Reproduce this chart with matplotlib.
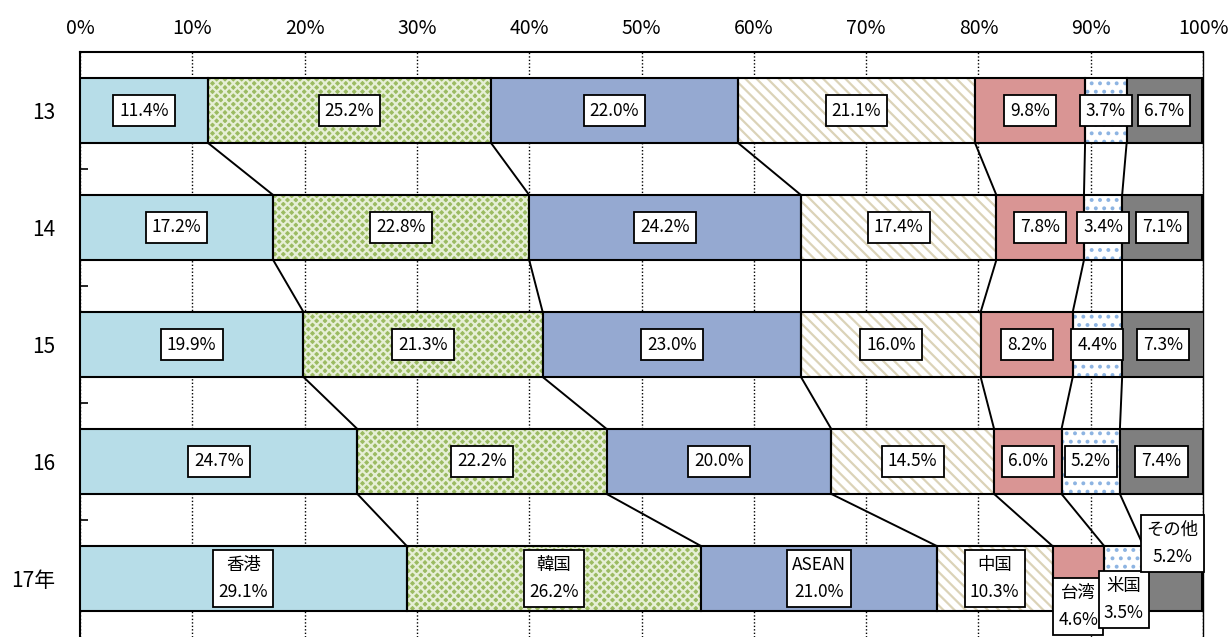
import numpy as np
import matplotlib.pyplot as plt

plt.rcParams['font.family'] = ['Noto Sans CJK JP', 'DejaVu Sans']
plt.rcParams['hatch.linewidth'] = 1.6

# share of exports by destination (%), one list per destination
years = ['13', '14', '15', '16', '17年']
names = ['香港', '韓国', 'ASEAN', '中国', '台湾', '米国', 'その他']
hongkong = [11.4, 17.2, 19.9, 24.7, 29.1]
korea = [25.2, 22.8, 21.3, 22.2, 26.2]
asean = [22.0, 24.2, 23.0, 20.0, 21.0]
china = [21.1, 17.4, 16.0, 14.5, 10.3]
taiwan = [9.8, 7.8, 8.2, 6.0, 4.6]
usa = [3.7, 3.4, 4.4, 5.2, 3.5]
other = [6.7, 7.1, 7.3, 7.4, 5.2]

series = [hongkong, korea, asean, china, taiwan, usa, other]

# fill / hatch style per destination: (face, hatch, hatch colour)
styles = [
    ('#B7DDE8', None, None),
    ('#9BBB62', 'xxxx', '#E6EFD6'),
    ('#95A9D1', None, None),
    ('white', '\\\\\\', '#DBD3B8'),
    ('#D99594', None, None),
    ('white', '..', '#8DB4E2'),
    ('#7F7F7F', None, None),
]

# the last year's labels are nudged off the narrow segments (category units)
last_row_dy = {'台湾': 0.24, '米国': 0.18, 'その他': -0.30}

fig = plt.figure(figsize=(12.31, 6.37), dpi=100)
ax = fig.add_axes([80 / 1231, 0.0, (1203 - 80) / 1231, 1 - 52 / 637])

y = np.arange(len(years))
bar_h = 0.555
data = np.array(series)
left = np.zeros(len(years))
lefts = []
for vals, (face, hatch, hcol) in zip(data, styles):
    if hatch:
        ax.barh(y, vals, left=left, height=bar_h, color=face, hatch=hatch,
                edgecolor=hcol, linewidth=0, zorder=2)
        ax.barh(y, vals, left=left, height=bar_h, fill=False,
                edgecolor='black', linewidth=1.5, zorder=3)
    else:
        ax.barh(y, vals, left=left, height=bar_h, color=face,
                edgecolor='black', linewidth=1.5, zorder=3)
    lefts.append(left.copy())
    left = left + vals

# series lines joining the segment ends of consecutive years
cum = np.cumsum(data, axis=0)
for k in range(len(series) - 1):
    for i in range(len(years) - 1):
        ax.plot([cum[k, i], cum[k, i + 1]], [i + bar_h / 2, i + 1 - bar_h / 2],
                color='black', lw=1.4, zorder=4)

box = dict(boxstyle='square,pad=0.4', fc='white', ec='black', lw=1.3)
for k, vals in enumerate(data):
    for i, v in enumerate(vals):
        xc = lefts[k][i] + v / 2
        if i == len(years) - 1:
            ax.text(xc, i + last_row_dy.get(names[k], 0), f'{names[k]}\n{v:.1f}%',
                    ha='center', va='center', fontsize=12.5, linespacing=1.7,
                    bbox=dict(box, boxstyle='square,pad=0.3'), zorder=6)
        else:
            ax.text(xc, i, f'{v:.1f}%', ha='center', va='center',
                    fontsize=12.5, bbox=dict(box, boxstyle='square,pad=0.35'),
                    zorder=5)

ax.set_xlim(0, 100)
ax.set_ylim(len(years) - 0.5, -0.5)
ax.set_xticks(np.arange(0, 101, 10))
ax.set_xticklabels([f'{t}%' for t in range(0, 101, 10)], fontsize=14)
ax.xaxis.tick_top()
ax.tick_params(axis='x', length=0, pad=9)
ax.set_yticks(y)
ax.set_yticklabels(years, fontsize=15)
ax.tick_params(axis='y', length=0, pad=18)
ax.set_yticks(np.arange(0.5, len(years) - 0.5), minor=True)
ax.tick_params(axis='y', which='minor', direction='in', length=6, width=1.2)

ax.grid(axis='x', linestyle=(0, (1, 1.5)), color='black', lw=1.0, zorder=1)
ax.spines['bottom'].set_visible(False)
ax.spines['right'].set_linewidth(1.0)
for side in ['top', 'left']:
    ax.spines[side].set_linewidth(1.5)

fig.savefig('out.png', dpi=100)
